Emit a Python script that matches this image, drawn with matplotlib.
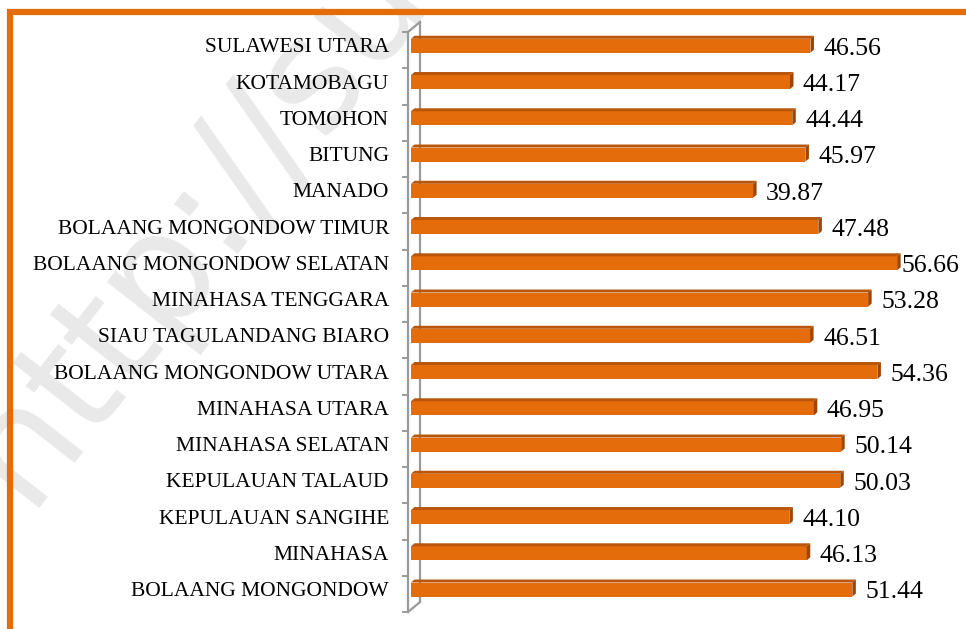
import matplotlib.pyplot as plt
from matplotlib.patches import Polygon, Rectangle
import numpy as np

# data (top to bottom as in the chart)
regions = ["SULAWESI UTARA", "KOTAMOBAGU", "TOMOHON", "BITUNG", "MANADO",
           "BOLAANG MONGONDOW TIMUR", "BOLAANG MONGONDOW SELATAN",
           "MINAHASA TENGGARA", "SIAU TAGULANDANG BIARO",
           "BOLAANG MONGONDOW UTARA", "MINAHASA UTARA", "MINAHASA SELATAN",
           "KEPULAUAN TALAUD", "KEPULAUAN SANGIHE", "MINAHASA",
           "BOLAANG MONGONDOW"]
values = [46.56, 44.17, 44.44, 45.97, 39.87, 47.48, 56.66, 53.28, 46.51,
          54.36, 46.95, 50.14, 50.03, 44.10, 46.13, 51.44]

W, H = 966, 629
fig = plt.figure(figsize=(W / 100, H / 100), dpi=100)
fig.patch.set_facecolor("white")

# axes placed in pixel terms
xmax = 64
ax_l, ax_t, ax_b = 411, 32, 612
ax_r = ax_l + xmax * 8.58
ax = fig.add_axes([ax_l / W, (H - ax_b) / H, (ax_r - ax_l) / W, (ax_b - ax_t) / H])
ax.set_zorder(5)
ax.patch.set_alpha(0)
n = len(regions)
ax.set_xlim(0, xmax)
ax.set_ylim(-0.5, n - 0.5)
ax.axis("off")

# pixel -> data units
sx = xmax / (ax_r - ax_l)
sy = n / (ax_b - ax_t)

# faint watermark (behind everything)
fig.text(-0.07, 0.16, "http://sulut.bps.go.id", fontsize=112, color="#e9e9e9",
         rotation=52, ha="left", va="bottom", family="DejaVu Sans", zorder=0)

# orange frame (cropped at right/bottom)
fig.patches.append(Rectangle((10 / W, -0.2), 1.2, (H - 12) / H + 0.2,
                             transform=fig.transFigure, fill=False,
                             edgecolor="#E46C0A", linewidth=4.5, zorder=1))

front = "#E46C0A"
topc = "#B9560B"
endc = "#9E4508"
grey = "#9a9a9a"

# axis wall (3d look)
dxw, dyw = 12 * sx, 10 * sy
x0 = -3 * sx
ax.plot([x0, x0], [-0.5, n - 0.5], color=grey, lw=1.6, clip_on=False, zorder=2)
ax.plot([x0 + dxw, x0 + dxw], [-0.5 + dyw, n - 0.5 + dyw], color=grey, lw=1.6,
        clip_on=False, zorder=2)
ax.plot([x0, x0 + dxw], [-0.5, -0.5 + dyw], color=grey, lw=1.6, clip_on=False, zorder=2)
ax.plot([x0, x0 + dxw], [n - 0.5, n - 0.5 + dyw], color=grey, lw=1.6, clip_on=False, zorder=2)
for k in range(n + 1):
    ax.plot([x0 - 5 * sx, x0], [k - 0.5, k - 0.5], color=grey, lw=1.4,
            clip_on=False, zorder=2)

ypos = np.arange(n)[::-1] + 0.12
bh = 14 * sy
ddx, ddy = 3.5 * sx, 3 * sy
ax.barh(ypos, values, height=bh, color=front, zorder=3)
for y, v in zip(ypos, values):
    top = y + bh / 2
    bot = y - bh / 2
    ax.add_patch(Polygon([(0, top), (v, top), (v + ddx, top + ddy), (ddx, top + ddy)],
                         closed=True, color=topc, lw=0, zorder=3))
    ax.add_patch(Polygon([(v, bot), (v, top), (v + ddx, top + ddy), (v + ddx, bot + ddy)],
                         closed=True, color=endc, lw=0, zorder=3))

# labels
vmax = max(values)
for y, v, name in zip(ypos, values, regions):
    off = 4 if v == vmax else 13
    ax.annotate(f"{v:.2f}", (v, y), xytext=(off * 0.72, -2), textcoords="offset points",
                ha="left", va="center", fontsize=18.5, family="Liberation Serif",
                annotation_clip=False, zorder=4)
    ax.text(-(ax_l - 389) * sx, y - 2 * sy, name, ha="right", va="center", fontsize=15.5,
            family="Liberation Serif", zorder=4)

fig.savefig("out.png", dpi=100)
